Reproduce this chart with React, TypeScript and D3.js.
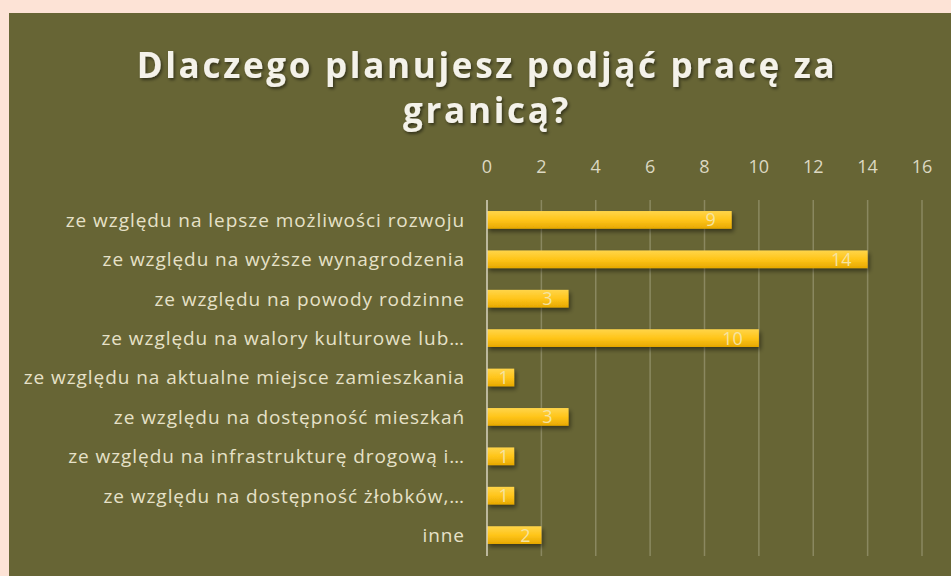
import React from 'react'
import * as d3 from 'd3'

const categories = [
  'ze względu na lepsze możliwości rozwoju',
  'ze względu na wyższe wynagrodzenia',
  'ze względu na powody rodzinne',
  'ze względu na walory kulturowe lub…',
  'ze względu na aktualne miejsce zamieszkania',
  'ze względu na dostępność mieszkań',
  'ze względu na infrastrukturę drogową i…',
  'ze względu na dostępność żłobków,…',
  'inne',
]
const values = [9, 14, 3, 10, 1, 3, 1, 1, 2]
const ticks = [0, 2, 4, 6, 8, 10, 12, 14, 16]
const titleLines = ['Dlaczego planujesz podjąć pracę za', 'granicą?']

const W = 951
const H = 576
const textColor = '#e6e1c8'

export default function App() {
  const x = d3.scaleLinear().domain([0, 16]).range([487, 922])
  const y = d3.scaleBand<string>().domain(categories).range([200, 555]).paddingInner(0.55).paddingOuter(0.28)

  return (
    <div style={{ position: 'fixed', left: 0, top: 0 }}>
      <svg width={W} height={H} style={{ display: 'block' }}>
        <defs>
          <linearGradient id="bar" x1="0" y1="0" x2="0" y2="1">
            <stop offset="0" stopColor="#ffd54a" />
            <stop offset="0.5" stopColor="#ffc51a" />
            <stop offset="1" stopColor="#e6a800" />
          </linearGradient>
          <filter id="shadow" x="-10%" y="-30%" width="130%" height="190%">
            <feDropShadow dx="2" dy="3" stdDeviation="2" floodColor="#000" floodOpacity="0.45" />
          </filter>
          <filter id="tshadow" x="-5%" y="-20%" width="110%" height="160%">
            <feDropShadow dx="1.5" dy="2" stdDeviation="1.5" floodColor="#000" floodOpacity="0.5" />
          </filter>
        </defs>
        <rect x={0} y={0} width={W} height={H} fill="#fde3d6" />
        <rect x={9} y={13} width={W - 9} height={H - 13} fill="#676535" />

        {titleLines.map((t, i) => (
          <text
            key={t}
            x={487}
            y={78 + i * 45}
            textAnchor="middle"
            fontFamily="'Open Sans', sans-serif"
            fontWeight={700}
            fontSize={35}
            letterSpacing={2.7}
            fill="#f4f2ea"
            filter="url(#tshadow)"
          >
            {t}
          </text>
        ))}

        {ticks.map((t) => (
          <g key={t}>
            {t > 0 && (
              <line x1={x(t)} x2={x(t)} y1={200} y2={556} stroke="#8a8860" strokeWidth={1.5} />
            )}
            <text
              x={x(t)}
              y={173}
              textAnchor="middle"
              fontFamily="'Open Sans', sans-serif"
              fontSize={18}
              fill="#dcd8c2"
            >
              {t}
            </text>
          </g>
        ))}

        {categories.map((c, i) => {
          const yy = y(c)!
          const bw = y.bandwidth()
          const barW = x(values[i]) - x(0)
          return (
            <g key={c}>
              <rect
                x={x(0)}
                y={yy}
                width={barW}
                height={bw}
                fill="url(#bar)"
                filter="url(#shadow)"
              />
              <text
                x={x(values[i]) - Math.min(16, barW * 0.2)}
                y={yy + bw / 2}
                dy="0.36em"
                textAnchor="end"
                fontFamily="'Open Sans', sans-serif"
                fontSize={18}
                fill="#f5e3a0"
              >
                {values[i]}
              </text>
              <text
                x={465}
                y={yy + bw / 2}
                dy="0.36em"
                textAnchor="end"
                fontFamily="'Open Sans', sans-serif"
                fontSize={19}
                letterSpacing={0.95}
                fill={textColor}
              >
                {c}
              </text>
            </g>
          )
        })}

        <line x1={x(0)} x2={x(0)} y1={200} y2={556} stroke="#d8d4c0" strokeWidth={1.5} />
      </svg>
    </div>
  )
}
